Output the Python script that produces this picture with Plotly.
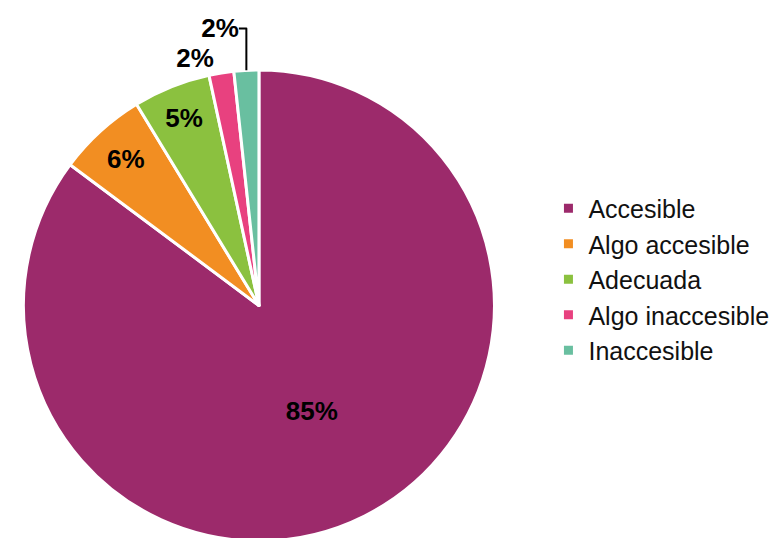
import plotly.graph_objects as go

# ---------------------------------
# DATA
# ---------------------------------

labels = ["Accesible", "Algo accesible", "Adecuada", "Algo inaccesible", "Inaccesible"]
values = [85.2, 6.1, 5.3, 1.7, 1.7]
colors = ["#9C2A6B", "#F28E22", "#8BC13F", "#E8417F", "#69BFA0"]
text_positions = ["inside", "inside", "inside", "outside", "outside"]

# ---------------------------------
# PIE
# ---------------------------------

fig = go.Figure(
    go.Pie(
        labels=labels,
        values=values,
        sort=False,
        direction="clockwise",
        rotation=0,
        marker=dict(
            colors=colors,
            line=dict(color="white", width=3)
        ),
        texttemplate="<b>%{percent:.0%}</b>",
        textposition=text_positions,
        insidetextorientation="horizontal",
        textfont=dict(family="Arial, Liberation Sans", size=26, color="black"),
        domain=dict(x=[0.0, 0.625], y=[0.0, 1.0]),
        hoverinfo="label+percent"
    )
)

fig.update_layout(
    width=781,
    height=538,
    paper_bgcolor="white",
    plot_bgcolor="white",
    margin=dict(l=0, r=0, t=0, b=0),
    font=dict(family="Arial, Liberation Sans", color="#111111"),
    legend=dict(
        x=0.688,
        y=0.555,
        xanchor="left",
        yanchor="middle",
        font=dict(size=25, color="#111111"),
        itemwidth=30,
        bgcolor="rgba(0,0,0,0)"
    ),
    showlegend=True
)

fig.write_html("out.html")
